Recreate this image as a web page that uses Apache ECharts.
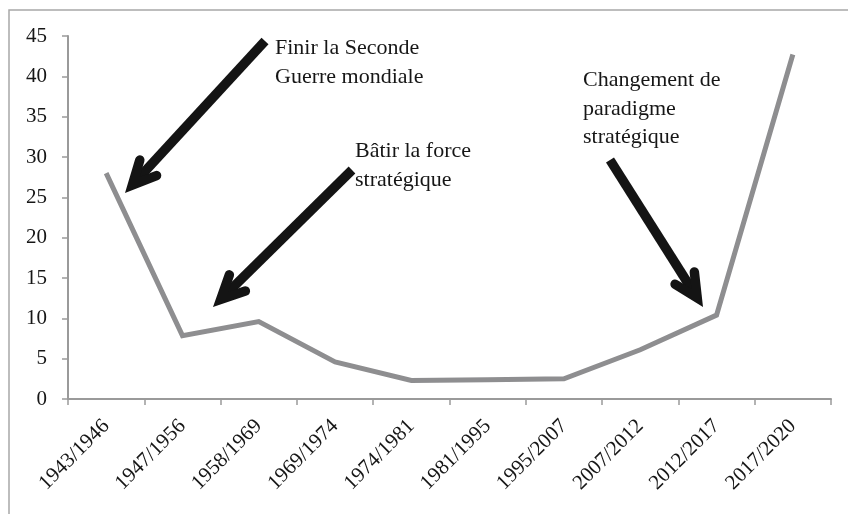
<!DOCTYPE html>
<html>
<head>
<meta charset="utf-8">
<script src="https://cdn.jsdelivr.net/npm/echarts@6/dist/echarts.min.js"></script>
<style>
  html, body { margin: 0; padding: 0; background: #fff; }
  #chart { width: 848px; height: 514px; }
</style>
</head>
<body>
<div id="chart"></div>
<script>
  var periods = ['1943/1946', '1947/1956', '1958/1969', '1969/1974', '1974/1981',
                 '1981/1995', '1995/2007', '2007/2012', '2012/2017', '2017/2020'];
  var values = [28, 7.85, 9.6, 4.6, 2.3, 2.4, 2.5, 6.1, 10.4, 42.7];
  var yMin = 0, yMax = 45, yStep = 5;

  var serif = '"Liberation Serif", "DejaVu Serif", serif';
  var ink = '#141414';

  // arrow with a bold chevron head, pixel coords
  function arrow(sx, sy, tx, ty) {
    var dx = tx - sx, dy = ty - sy;
    var len = Math.sqrt(dx * dx + dy * dy);
    var ux = dx / len, uy = dy / len;
    var w = 9.5, a = 26 * Math.PI / 180, wing = 26;
    var back = (w / 2) / Math.sin(a);
    var vx = tx - ux * back, vy = ty - uy * back;
    function wingPt(sign) {
      var c = Math.cos(a), s = Math.sin(a) * sign;
      var rx = -ux * c + uy * s, ry = -uy * c - ux * s;
      return [vx + rx * wing, vy + ry * wing];
    }
    return [
      { type: 'line', shape: { x1: sx, y1: sy, x2: vx, y2: vy },
        style: { stroke: ink, lineWidth: w, lineCap: 'butt' }, z: 10 },
      { type: 'polyline', shape: { points: [wingPt(1), [vx, vy], wingPt(-1)] },
        style: { stroke: ink, lineWidth: w, lineJoin: 'miter', lineCap: 'round', fill: null }, z: 10 }
    ];
  }

  function label(x, y, lines) {
    return {
      type: 'text', left: x, top: y, z: 10,
      style: { text: lines.join('\n'), font: '22px ' + serif, fill: '#161616', lineHeight: 28.5 }
    };
  }

  var chart = echarts.init(document.getElementById('chart'), null, { renderer: 'canvas' });

  var graphics = [
    { type: 'rect', shape: { x: 9, y: 10, width: 900, height: 600 },
      style: { fill: null, stroke: '#a8a8a8', lineWidth: 1.5 }, z: 0 },
    label(275, 34, ['Finir la Seconde', 'Guerre mondiale']),
    label(355, 137, ['Bâtir la force', 'stratégique']),
    label(583, 66, ['Changement de', 'paradigme', 'stratégique'])
  ]
    .concat(arrow(265, 41, 125, 193))
    .concat(arrow(352, 170, 213, 307))
    .concat(arrow(610, 160, 703, 307));

  chart.setOption({
    animation: false,
    grid: { left: 68, right: 17, top: 36, bottom: 115, containLabel: false },
    xAxis: {
      type: 'category',
      data: periods,
      boundaryGap: true,
      axisLine: { lineStyle: { color: '#9a9a9a', width: 2 } },
      axisTick: { show: true, length: 6, lineStyle: { color: '#9a9a9a', width: 1.5 } },
      axisLabel: { rotate: 45, margin: 24, interval: 0, color: '#161616',
                   fontFamily: serif, fontSize: 21 },
      splitLine: { show: false }
    },
    yAxis: {
      type: 'value',
      min: yMin, max: yMax, interval: yStep,
      axisLine: { show: true, lineStyle: { color: '#9a9a9a', width: 2 } },
      axisTick: { show: true, length: 6, lineStyle: { color: '#9a9a9a', width: 1.5 } },
      axisLabel: { margin: 21, color: '#161616', fontFamily: serif, fontSize: 21 },
      splitLine: { show: false }
    },
    series: [{
      type: 'line',
      data: values,
      symbol: 'none',
      lineStyle: { color: '#8e8e90', width: 5, join: 'miter' },
      z: 3
    }],
    graphic: graphics
  });
</script>
</body>
</html>
